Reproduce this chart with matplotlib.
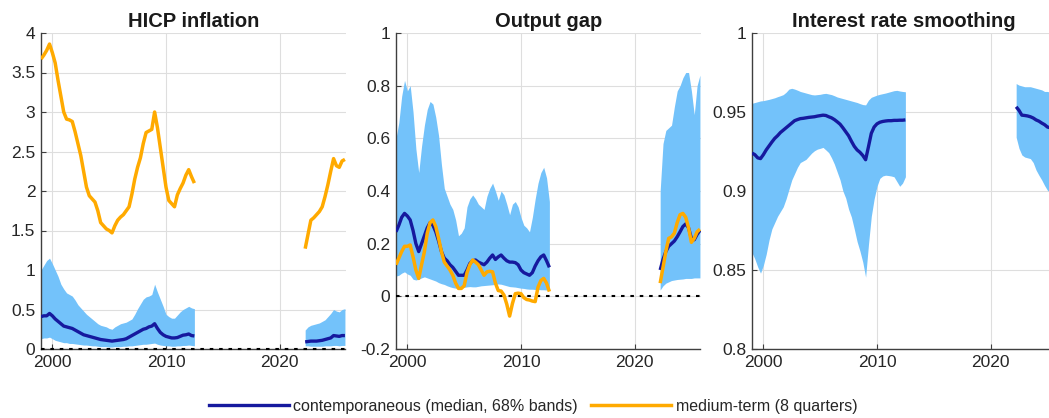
import numpy as np
import matplotlib
matplotlib.use("Agg")
import matplotlib.pyplot as plt
from matplotlib.lines import Line2D

plt.rcParams['font.family'] = ['Liberation Sans', 'DejaVu Sans']

# ---------------------------------------------------------------------------
# Quarterly sample: two estimation windows
# ---------------------------------------------------------------------------
dates_early = np.arange(1999.0, 2012.5 + 0.01, 0.25)
dates_late = np.arange(2022.25, 2025.75 + 0.01, 0.25)

# HICP inflation response -------------------------------------------------
hicp_hi_early = [1.00, 1.06, 1.12, 1.15, 1.08, 1.00, 0.92, 0.82, 0.76, 0.71, 0.69, 0.67,
                 0.62, 0.56, 0.52, 0.48, 0.44, 0.41, 0.38, 0.35, 0.32, 0.30, 0.29, 0.28,
                 0.26, 0.25, 0.28, 0.30, 0.32, 0.33, 0.34, 0.36, 0.38, 0.44, 0.51, 0.57,
                 0.63, 0.66, 0.67, 0.69, 0.82, 0.72, 0.63, 0.54, 0.44, 0.41, 0.39, 0.39,
                 0.43, 0.47, 0.50, 0.52, 0.54, 0.52, 0.51]
hicp_med_early = [0.41, 0.42, 0.42, 0.45, 0.42, 0.38, 0.35, 0.32, 0.29, 0.28, 0.27, 0.26,
                  0.24, 0.22, 0.20, 0.18, 0.17, 0.16, 0.15, 0.14, 0.13, 0.12, 0.115, 0.11,
                  0.105, 0.10, 0.105, 0.11, 0.115, 0.12, 0.13, 0.15, 0.17, 0.19, 0.21, 0.23,
                  0.25, 0.26, 0.28, 0.29, 0.32, 0.26, 0.21, 0.18, 0.16, 0.15, 0.14, 0.14,
                  0.145, 0.16, 0.175, 0.18, 0.19, 0.17, 0.165]
hicp_lo_early = [0.13, 0.14, 0.14, 0.15, 0.13, 0.11, 0.10, 0.09, 0.08, 0.08, 0.07, 0.07,
                 0.065, 0.06, 0.055, 0.05, 0.05, 0.045, 0.04, 0.04, 0.035, 0.03, 0.03, 0.03,
                 0.025, 0.025, 0.03, 0.03, 0.03, 0.035, 0.035, 0.04, 0.04, 0.045, 0.05, 0.055,
                 0.06, 0.06, 0.065, 0.07, 0.075, 0.06, 0.05, 0.045, 0.04, 0.04, 0.035, 0.035,
                 0.04, 0.04, 0.045, 0.045, 0.05, 0.045, 0.04]
hicp_mt_early = [3.67, 3.72, 3.78, 3.86, 3.75, 3.62, 3.40, 3.20, 3.00, 2.91, 2.90, 2.88,
                 2.75, 2.60, 2.45, 2.25, 2.05, 1.94, 1.90, 1.86, 1.75, 1.60, 1.56, 1.52,
                 1.50, 1.47, 1.56, 1.63, 1.67, 1.70, 1.75, 1.80, 1.96, 2.15, 2.30, 2.42,
                 2.60, 2.74, 2.76, 2.78, 3.00, 2.80, 2.55, 2.30, 2.05, 1.88, 1.84, 1.80,
                 1.95, 2.03, 2.10, 2.20, 2.27, 2.18, 2.10]
hicp_hi_late = [0.24, 0.28, 0.30, 0.31, 0.32, 0.33, 0.35, 0.37, 0.41, 0.45, 0.50, 0.48,
                0.47, 0.50, 0.51]
hicp_med_late = [0.09, 0.095, 0.10, 0.10, 0.10, 0.105, 0.11, 0.12, 0.13, 0.14, 0.17, 0.165,
                 0.16, 0.17, 0.17]
hicp_lo_late = [0.04, 0.04, 0.035, 0.035, 0.035, 0.035, 0.035, 0.04, 0.04, 0.04, 0.045, 0.045,
                0.04, 0.045, 0.045]
hicp_mt_late = [1.27, 1.45, 1.63, 1.66, 1.70, 1.74, 1.80, 1.93, 2.08, 2.25, 2.41, 2.32,
                2.30, 2.38, 2.40]

# Output gap response -----------------------------------------------------
gap_hi_early = [0.60, 0.66, 0.76, 0.82, 0.78, 0.80, 0.70, 0.56, 0.47, 0.57, 0.65, 0.71,
                0.74, 0.73, 0.68, 0.61, 0.50, 0.41, 0.38, 0.35, 0.33, 0.29, 0.23, 0.24,
                0.26, 0.34, 0.37, 0.385, 0.37, 0.35, 0.34, 0.33, 0.38, 0.41, 0.43, 0.40,
                0.365, 0.40, 0.385, 0.35, 0.31, 0.35, 0.36, 0.34, 0.30, 0.27, 0.26, 0.245,
                0.30, 0.37, 0.43, 0.47, 0.49, 0.45, 0.36]
gap_med_early = [0.245, 0.27, 0.30, 0.315, 0.305, 0.29, 0.25, 0.20, 0.17, 0.20, 0.23, 0.26,
                 0.28, 0.27, 0.245, 0.21, 0.17, 0.145, 0.135, 0.12, 0.11, 0.095, 0.08, 0.08,
                 0.08, 0.10, 0.125, 0.135, 0.138, 0.13, 0.125, 0.12, 0.13, 0.145, 0.157, 0.14,
                 0.15, 0.157, 0.145, 0.135, 0.13, 0.13, 0.128, 0.12, 0.10, 0.09, 0.085, 0.08,
                 0.09, 0.115, 0.135, 0.15, 0.157, 0.135, 0.11]
gap_lo_early = [0.077, 0.08, 0.088, 0.093, 0.085, 0.08, 0.065, 0.062, 0.065, 0.07, 0.074, 0.07,
                0.066, 0.062, 0.058, 0.052, 0.048, 0.045, 0.04, 0.036, 0.033, 0.031, 0.03, 0.032,
                0.034, 0.036, 0.037, 0.036, 0.036, 0.038, 0.04, 0.041, 0.042, 0.043, 0.044, 0.046,
                0.047, 0.046, 0.043, 0.04, 0.037, 0.036, 0.035, 0.033, 0.031, 0.03, 0.028, 0.027,
                0.027, 0.026, 0.026, 0.025, 0.025, 0.024, 0.024]
gap_mt_early = [0.12, 0.145, 0.17, 0.19, 0.19, 0.195, 0.15, 0.10, 0.068, 0.12, 0.17, 0.24,
                0.28, 0.29, 0.265, 0.22, 0.17, 0.13, 0.115, 0.10, 0.08, 0.05, 0.03, 0.03,
                0.04, 0.09, 0.12, 0.138, 0.13, 0.12, 0.10, 0.08, 0.093, 0.095, 0.093, 0.05,
                0.022, 0.02, 0.005, -0.03, -0.075, -0.027, 0.01, 0.012, 0.01, -0.005, -0.012, -0.014,
                -0.018, -0.02, 0.035, 0.06, 0.068, 0.05, 0.018]
gap_hi_late = [0.40, 0.58, 0.63, 0.64, 0.65, 0.72, 0.78, 0.80, 0.83, 0.85, 0.85, 0.78,
               0.69, 0.80, 0.84]
gap_med_late = [0.10, 0.14, 0.17, 0.19, 0.20, 0.21, 0.226, 0.245, 0.265, 0.275, 0.26, 0.22,
                0.215, 0.235, 0.25]
gap_lo_late = [0.024, 0.04, 0.05, 0.055, 0.06, 0.062, 0.064, 0.065, 0.066, 0.068, 0.068, 0.068,
               0.07, 0.07, 0.07]
gap_mt_late = [0.05, 0.11, 0.17, 0.22, 0.226, 0.24, 0.28, 0.31, 0.315, 0.30, 0.26, 0.205,
               0.22, 0.245, 0.255]

# Interest rate smoothing -------------------------------------------------
rho_hi_early = [0.9555, 0.956, 0.9565, 0.957, 0.9572, 0.9576, 0.958, 0.9585, 0.959, 0.9597,
                0.9603, 0.961, 0.9625, 0.9645, 0.965, 0.9645, 0.9638, 0.963, 0.9625, 0.962,
                0.9615, 0.961, 0.9608, 0.961, 0.9612, 0.9616, 0.9618, 0.9614, 0.961, 0.9603,
                0.9595, 0.959, 0.9585, 0.958, 0.9575, 0.957, 0.9565, 0.956, 0.9553, 0.9547,
                0.9545, 0.9575, 0.9593, 0.96, 0.9607, 0.9612, 0.9616, 0.962, 0.9625, 0.963,
                0.9635, 0.9637, 0.9633, 0.963, 0.9628]
rho_med_early = [0.924, 0.923, 0.921, 0.9205, 0.923, 0.926, 0.9285, 0.931, 0.9333, 0.935,
                 0.937, 0.9385, 0.940, 0.9415, 0.943, 0.9445, 0.9452, 0.9458, 0.946, 0.9463,
                 0.9466, 0.9468, 0.947, 0.9474, 0.9477, 0.948, 0.9478, 0.947, 0.9463, 0.9452,
                 0.9438, 0.9423, 0.940, 0.9375, 0.935, 0.9315, 0.9283, 0.926, 0.9245, 0.9225,
                 0.9198, 0.928, 0.9365, 0.9405, 0.9425, 0.9435, 0.944, 0.9443, 0.9445, 0.9445,
                 0.9447, 0.9447, 0.9448, 0.9448, 0.945]
rho_lo_early = [0.861, 0.857, 0.852, 0.848, 0.853, 0.860, 0.869, 0.876, 0.880, 0.884,
                0.887, 0.890, 0.895, 0.901, 0.907, 0.911, 0.915, 0.918, 0.919, 0.920,
                0.922, 0.924, 0.9255, 0.9265, 0.927, 0.9276, 0.926, 0.9243, 0.921, 0.917,
                0.912, 0.907, 0.900, 0.8955, 0.8885, 0.8835, 0.876, 0.868, 0.862, 0.855,
                0.8455, 0.866, 0.884, 0.895, 0.903, 0.908, 0.9095, 0.910, 0.9098, 0.9095,
                0.909, 0.906, 0.903, 0.905, 0.909]
rho_hi_late = [0.968, 0.967, 0.9665, 0.966, 0.966, 0.966, 0.9655, 0.965, 0.9645, 0.964,
               0.963, 0.963, 0.9625, 0.962, 0.962]
rho_med_late = [0.9533, 0.951, 0.948, 0.9478, 0.9475, 0.947, 0.9462, 0.945, 0.9442, 0.943,
                0.942, 0.9405, 0.940, 0.9395, 0.939]
rho_lo_late = [0.934, 0.927, 0.9228, 0.9215, 0.921, 0.9205, 0.918, 0.9133, 0.910, 0.907,
               0.9035, 0.9005, 0.899, 0.898, 0.897]

titles = ["HICP inflation", "Output gap", "Interest rate smoothing"]
ylims = [(0, 4), (-0.2, 1), (0.8, 1)]
yticks = [[0, 0.5, 1, 1.5, 2, 2.5, 3, 3.5, 4],
          [-0.2, 0, 0.2, 0.4, 0.6, 0.8, 1],
          [0.8, 0.85, 0.9, 0.95, 1]]
ytick_labels = [["0", "0.5", "1", "1.5", "2", "2.5", "3", "3.5", "4"],
                ["-0.2", "0", "0.2", "0.4", "0.6", "0.8", "1"],
                ["0.8", "0.85", "0.9", "0.95", "1"]]
xticks = [2000, 2010, 2020]
xtick_labels = ["2000", "2010", "2020"]

panels = [
    dict(hi=(hicp_hi_early, hicp_hi_late), med=(hicp_med_early, hicp_med_late),
         lo=(hicp_lo_early, hicp_lo_late), mt=(hicp_mt_early, hicp_mt_late), zero=True),
    dict(hi=(gap_hi_early, gap_hi_late), med=(gap_med_early, gap_med_late),
         lo=(gap_lo_early, gap_lo_late), mt=(gap_mt_early, gap_mt_late), zero=True),
    dict(hi=(rho_hi_early, rho_hi_late), med=(rho_med_early, rho_med_late),
         lo=(rho_lo_early, rho_lo_late), mt=None, zero=False),
]

band_color = "#73C2FA"
median_color = "#16199E"
medium_color = "#FFAA00"
axis_color = "#3F3F3F"
text_color = "#262626"

W, H = 1049, 418
fig = plt.figure(figsize=(W / 100, H / 100), dpi=100)
lefts = [41, 396, 752]
ax_w, ax_bottom, ax_top = 304.5, 349, 33

for i, spec in enumerate(panels):
    ax = fig.add_axes([lefts[i] / W, 1 - ax_bottom / H, ax_w / W, (ax_bottom - ax_top) / H])
    for seg, dates in enumerate((dates_early, dates_late)):
        ax.fill_between(dates, spec["lo"][seg], spec["hi"][seg], color=band_color,
                        linewidth=0, zorder=2)
        ax.plot(dates, spec["med"][seg], color=median_color, lw=2.4, zorder=4,
                solid_capstyle="butt")
        if spec["mt"] is not None:
            ax.plot(dates, spec["mt"][seg], color=medium_color, lw=2.5, zorder=5,
                    solid_capstyle="butt")
    if spec["zero"]:
        ax.axhline(0, color="black", lw=1.5, linestyle=(0, (1.7, 2.8)), zorder=3.5,
                   clip_on=False)

    ax.set_xlim(1999.0, 2025.8)
    ax.set_ylim(*ylims[i])
    ax.set_yticks(yticks[i])
    ax.set_yticklabels(ytick_labels[i])
    ax.set_xticks(xticks)
    ax.set_xticklabels(xtick_labels)
    ax.grid(True, color="#DEDEDE", lw=0.8, zorder=0)
    ax.set_axisbelow(True)
    for side in ("top", "right"):
        ax.spines[side].set_visible(False)
    for side in ("left", "bottom"):
        ax.spines[side].set_color(axis_color)
        ax.spines[side].set_linewidth(1.0)
    ax.tick_params(direction="in", length=3.5, width=0.8, color=axis_color,
                   labelcolor=text_color, labelsize=12.5, pad=4)
    ax.set_title(titles[i], fontsize=14.5, fontweight="bold", color="#1A1A1A", pad=4.5)

handles = [Line2D([], [], color=median_color, lw=2.4),
           Line2D([], [], color=medium_color, lw=2.5)]
labels = ["contemporaneous (median, 68% bands)", "medium-term (8 quarters)"]
fig.legend(handles, labels, loc="center", bbox_to_anchor=(533 / W, 1 - 406 / H),
           ncol=2, frameon=False, fontsize=11.5, handlelength=5.0, handletextpad=0.3,
           columnspacing=0.8, labelcolor=text_color)

fig.savefig("out.png", dpi=100)
